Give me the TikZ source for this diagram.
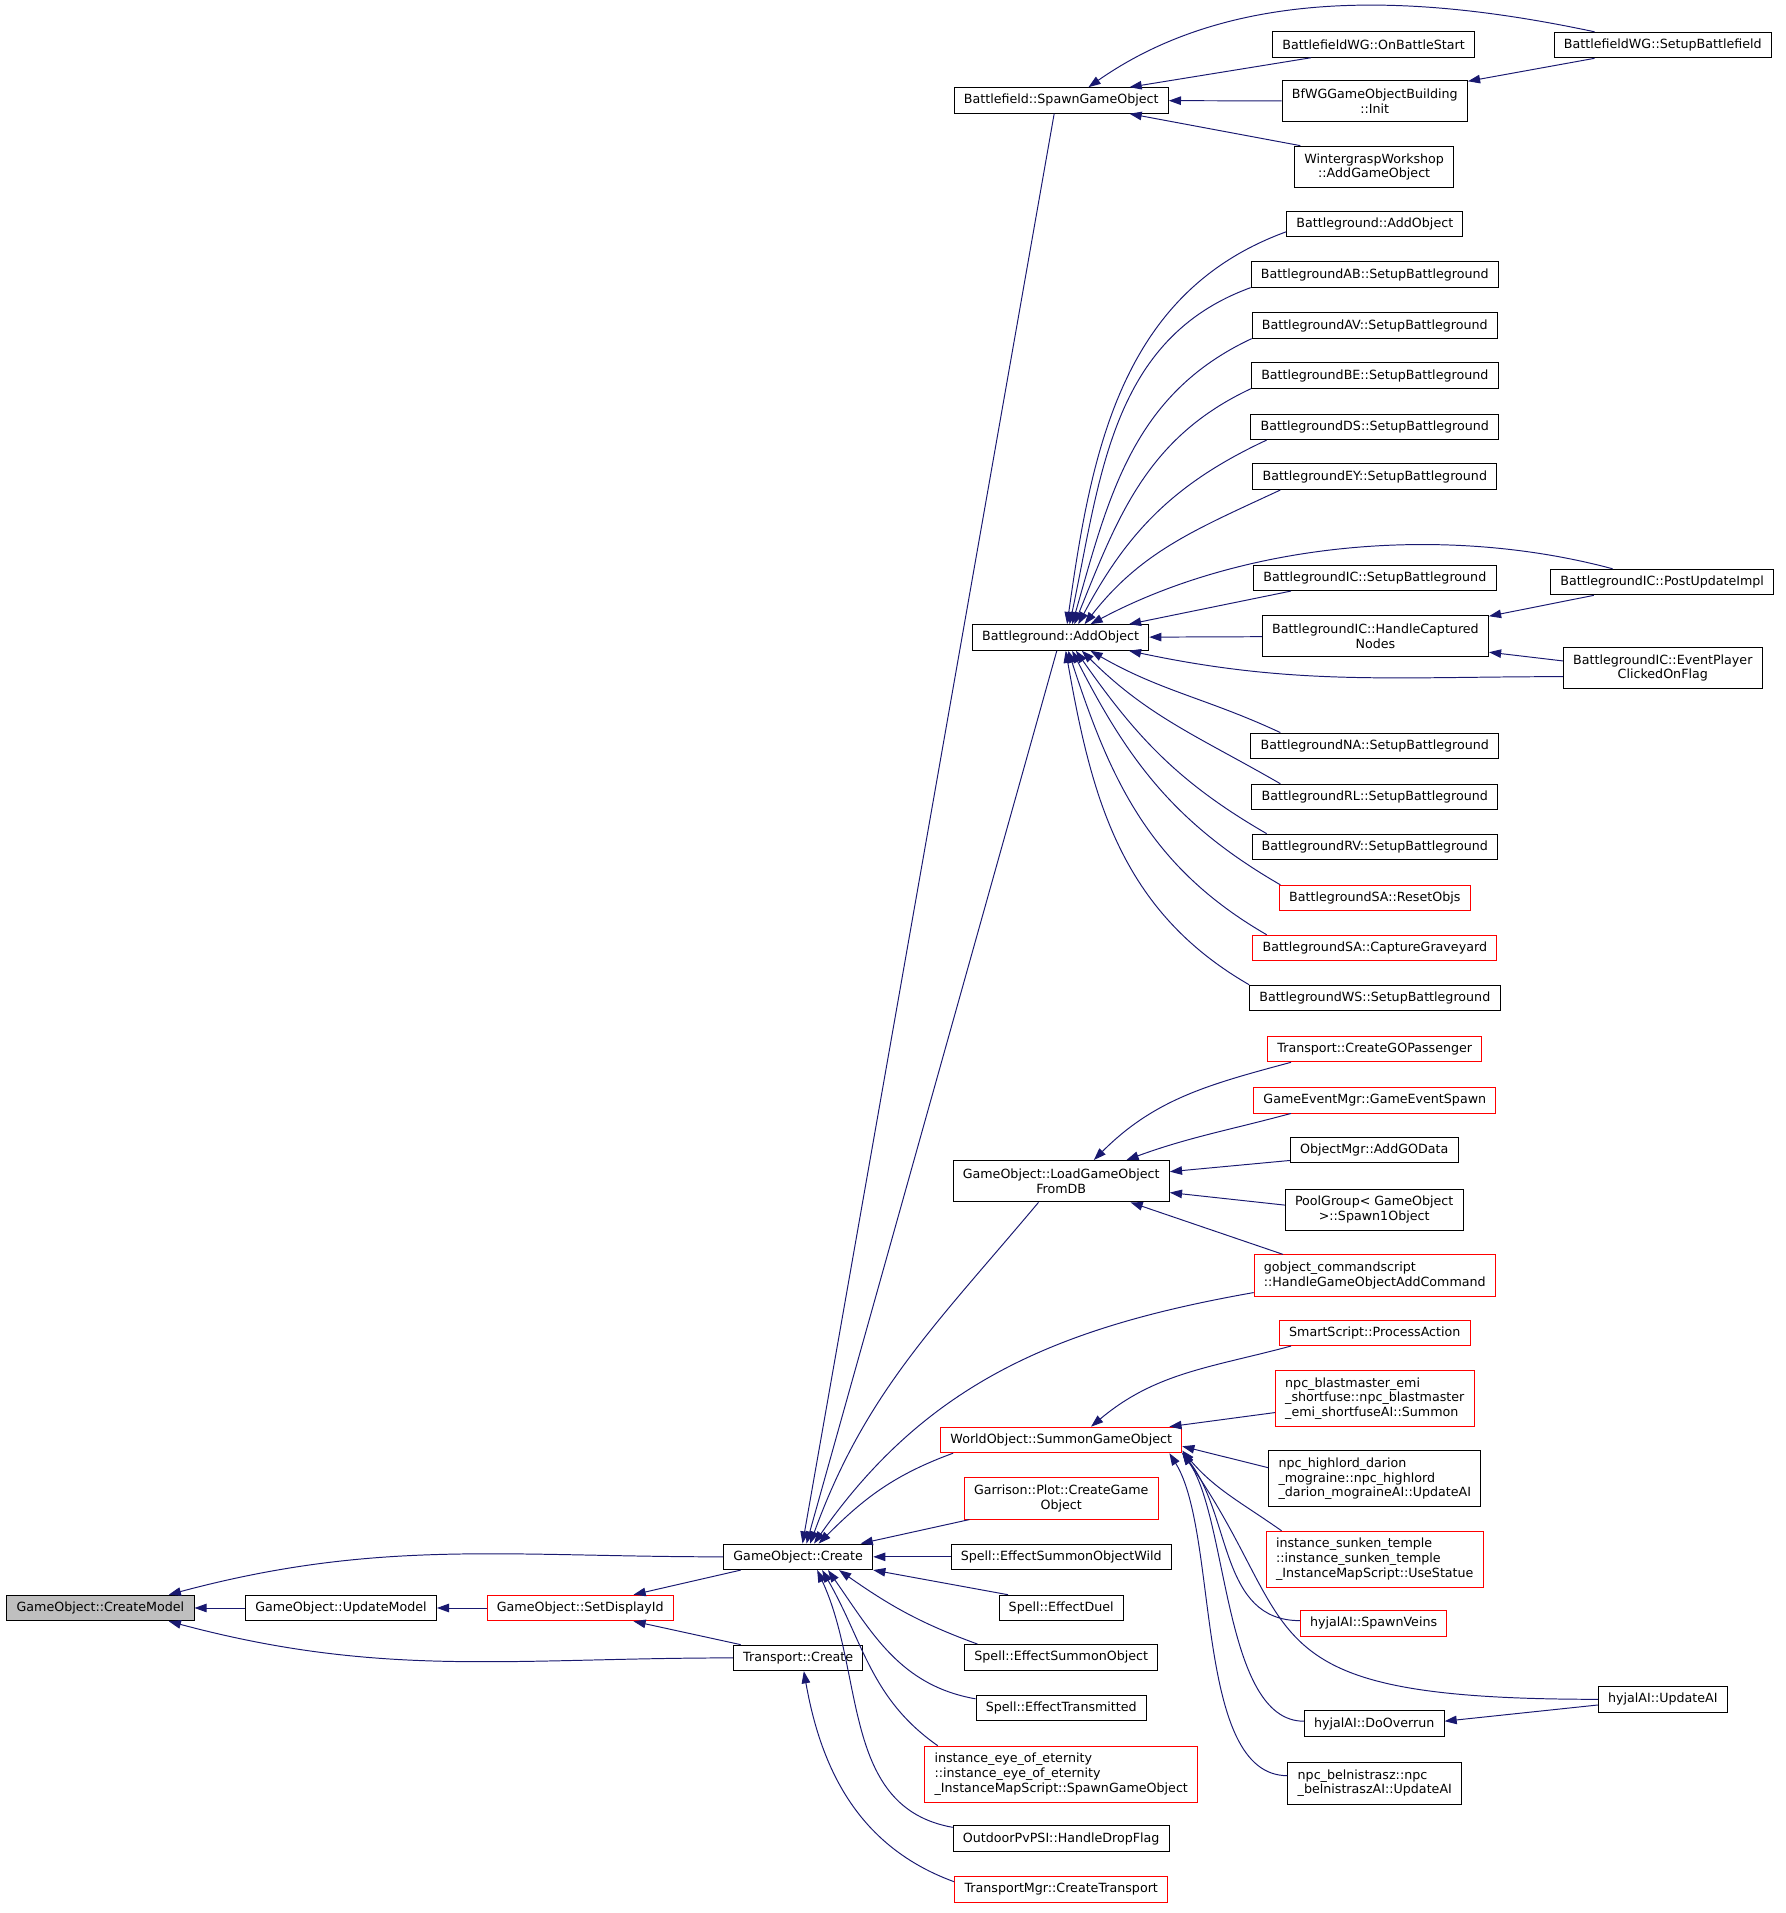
\documentclass[tikz,border=0pt]{standalone}
\usepackage{fontspec}
\setmainfont{DejaVu Sans}
\usetikzlibrary{arrows.meta}
\definecolor{edgeblue}{HTML}{191970}
\def\EdgeColor{edgeblue}
\def\RootColor{black!25}
\def\RefColor{red}

\begin{document}
\begin{tikzpicture}[x=1pt, y=-1pt,
     N/.style = {draw, fill=white, line width=0.8pt, minimum height=21pt,
                 inner xsep=8pt, inner ysep=2pt, font=\fontsize{10.4}{12}\selectfont},
     R/.style = {N, draw=\RefColor},
   two/.style = {minimum height=34pt, align=center},
 three/.style = {minimum height=46pt, align=left},
   lft/.style = {align=left},
    every edge/.style={draw=\EdgeColor, line width=0.8pt, -{Triangle[length=10pt,width=7pt]}}
                        ]
\useasboundingbox (0,0) rectangle (1466,1571);
% callee chain
\node[N, fill=\RootColor] (createModel) at (82.5,1320.5) {GameObject::CreateModel};
\node[N] (updateModel)  at (280,1320.5)  {GameObject::UpdateModel};
\node[R] (setDisplayId) at (476.5,1320.5) {GameObject::SetDisplayId};
\node[N] (goCreate)     at (655.5,1278.5) {GameObject::Create};
\node[N] (trCreate)     at (655.5,1361.5) {Transport::Create};
% callers of GameObject::Create
\node[N] (bfSpawn)      at (871.5,82.5)   {Battlefield::SpawnGameObject};
\node[N] (bgAdd)        at (871,523.5)    {Battleground::AddObject};
\node[N, two] (goLoad)  at (871.5,970)    {GameObject::LoadGameObject\\FromDB};
\node[R] (woSummon)     at (871.5,1182.5) {WorldObject::SummonGameObject};
\node[R, two] (garrison) at (871.5,1230.5) {Garrison::Plot::CreateGame\\Object};
\node[N] (effWild)      at (871.5,1278.5) {Spell::EffectSummonObjectWild};
\node[N] (effDuel)      at (871.5,1320.5) {Spell::EffectDuel};
\node[N] (effSummon)    at (871.5,1361)   {Spell::EffectSummonObject};
\node[N] (effTrans)     at (871.5,1402.5) {Spell::EffectTransmitted};
\node[R, three] (eyeEternity) at (871.5,1457)
     {instance\_eye\_of\_eternity\\::instance\_eye\_of\_eternity\\\_InstanceMapScript::SpawnGameObject};
\node[N] (siDrop)       at (871.5,1510)   {OutdoorPvPSI::HandleDropFlag};
\node[R] (trMgr)        at (871.5,1551.5) {TransportMgr::CreateTransport};
% third column
\node[N] (wgStart)      at (1128,36.5)    {BattlefieldWG::OnBattleStart};
\node[N, two] (wgInit)  at (1129,83)      {BfWGGameObjectBuilding\\::Init};
\node[N, two] (wgWorkshop) at (1128.5,137) {WintergraspWorkshop\\::AddGameObject};
\node[N] (bgAdd2)       at (1129,184)     {Battleground::AddObject};
\node[N] (bgAB)         at (1129,225.5)   {BattlegroundAB::SetupBattleground};
\node[N] (bgAV)         at (1129,267.5)   {BattlegroundAV::SetupBattleground};
\node[N] (bgBE)         at (1129,308.5)   {BattlegroundBE::SetupBattleground};
\node[N] (bgDS)         at (1129,350.5)   {BattlegroundDS::SetupBattleground};
\node[N] (bgEY)         at (1129,391.5)   {BattlegroundEY::SetupBattleground};
\node[N] (icSetup)      at (1129,474.5)   {BattlegroundIC::SetupBattleground};
\node[N, two] (icCapt)  at (1129.5,522.5) {BattlegroundIC::HandleCaptured\\Nodes};
\node[N] (bgNA)         at (1129,612.5)   {BattlegroundNA::SetupBattleground};
\node[N] (bgRL)         at (1129,654.5)   {BattlegroundRL::SetupBattleground};
\node[N] (bgRV)         at (1129,695.5)   {BattlegroundRV::SetupBattleground};
\node[R] (saReset)      at (1129,737.5)   {BattlegroundSA::ResetObjs};
\node[R] (saGrave)      at (1129,778.5)   {BattlegroundSA::CaptureGraveyard};
\node[N] (bgWS)         at (1129,819.5)   {BattlegroundWS::SetupBattleground};
\node[R] (goPassenger)  at (1129,861.5)   {Transport::CreateGOPassenger};
\node[R] (gameEvent)    at (1129,903.5)   {GameEventMgr::GameEventSpawn};
\node[N] (addGOData)    at (1128.5,944.5) {ObjectMgr::AddGOData};
\node[N, two] (poolSpawn) at (1128.5,993.5) {PoolGroup< GameObject\\>::Spawn1Object};
\node[R, two, lft] (gobjCmd) at (1129,1047.5) {gobject\_commandscript\\::HandleGameObjectAddCommand};
\node[R] (smartAction)  at (1129,1094.5)  {SmartScript::ProcessAction};
\node[R, three] (blastmaster) at (1129,1148.5)
     {npc\_blastmaster\_emi\\\_shortfuse::npc\_blastmaster\\\_emi\_shortfuseAI::Summon};
\node[N, three] (highlord) at (1129,1214.5)
     {npc\_highlord\_darion\\\_mograine::npc\_highlord\\\_darion\_mograineAI::UpdateAI};
\node[R, three] (sunkenTemple) at (1129,1280.5)
     {instance\_sunken\_temple\\::instance\_sunken\_temple\\\_InstanceMapScript::UseStatue};
\node[R] (spawnVeins)   at (1128,1333)    {hyjalAI::SpawnVeins};
\node[N] (doOverrun)    at (1128.5,1415.5) {hyjalAI::DoOverrun};
\node[N, two, lft] (belnistrasz) at (1129,1464.5) {npc\_belnistrasz::npc\\\_belnistraszAI::UpdateAI};
% fourth column
\node[N] (wgSetup)      at (1365.5,37)    {BattlefieldWG::SetupBattlefield};
\node[N] (icPost)       at (1365,478)     {BattlegroundIC::PostUpdateImpl};
\node[N, two] (icClicked) at (1365.5,548.5) {BattlegroundIC::EventPlayer\\ClickedOnFlag};
\node[N] (hyjalUpdate)  at (1365.5,1395.5) {hyjalAI::UpdateAI};

\draw   (wgSetup.169)  edge[out=168,in=35,looseness=0.9] (bfSpawn.26)
        (wgStart.192)  edge (bfSpawn.11)
        (wgInit)       edge (bfSpawn)
        (wgWorkshop.164) edge (bfSpawn.-11)
        (wgSetup.191)  edge (wgInit.12)
        (bgAdd2.185)   edge[out=200,in=82] (bgAdd.64)
        (bgAB.186)     edge[out=200,in=78] (bgAdd.56)
        (bgAV.186)     edge[out=205,in=74] (bgAdd.49)
        (bgBE.186)     edge[out=205,in=68] (bgAdd.44)
        (bgDS.187)     edge[out=205,in=62] (bgAdd.37)
        (bgEY.188)     edge[out=205,in=52] (bgAdd.29)
        (icPost.165)   edge[out=165,in=28,looseness=0.85] (bgAdd.24)
        (icSetup.189)  edge (bgAdd.11)
        (icCapt)       edge (bgAdd)
        (icClicked.185) edge[out=180,in=-12] (bgAdd.-11)
        (icPost.191)   edge (icCapt.10)
        (icClicked.176) edge (icCapt.-8)
        (bgNA.172)     edge[out=155,in=-30] (bgAdd.-24)
        (bgRL.172)     edge[out=150,in=-45] (bgAdd.-32)
        (bgRV.173)     edge[out=150,in=-55] (bgAdd.-41)
        (saReset.172)  edge[out=150,in=-63] (bgAdd.-49)
        (saGrave.173)  edge[out=150,in=-72] (bgAdd.-60)
        (bgWS.174)     edge[out=150,in=-80] (bgAdd.-69)
        (goPassenger.189) edge[out=195,in=45] (goLoad.33)
        (gameEvent.189) edge[out=195,in=20] (goLoad.18)
        (addGOData.187) edge (goLoad.5)
        (poolSpawn.177) edge (goLoad.-6)
        (gobjCmd.167)  edge (goLoad.-17)
        (smartAction.189) edge[out=195,in=40] (woSummon.24)
        (blastmaster.188) edge (woSummon.7)
        (highlord.174) edge (woSummon.-3)
        (sunkenTemple.163) edge[out=145,in=-50] (woSummon.-5)
        (spawnVeins.178) edge[out=180,in=-52] (woSummon.-6)
        (hyjalUpdate)  edge[out=180,in=-55,out looseness=1.9,in looseness=1.15] (woSummon.-6)
        (doOverrun.178) edge[out=180,in=-55,looseness=0.7] (woSummon.-6)
        (belnistrasz.175) edge[out=180,in=-58,looseness=0.7] (woSummon.-7)
        (hyjalUpdate.185) edge (doOverrun.2)
        (bfSpawn.-118) edge (goCreate.72)
        (bgAdd.-106)   edge (goCreate.58)
        (goLoad.223)   edge[out=230,in=70] (goCreate.48)
        (gobjCmd.188)  edge[out=190,in=55] (goCreate.40)
        (woSummon.187) edge[out=200,in=45] (goCreate.33)
        (garrison.193) edge (goCreate.12)
        (effWild)      edge (goCreate)
        (effDuel.166)  edge (goCreate.-10)
        (effSummon.171) edge[out=160,in=-35] (goCreate.-18)
        (effTrans.174) edge[out=170,in=-55] (goCreate.-24)
        (eyeEternity.167) edge[out=145,in=-60] (goCreate.-29)
        (siDrop.174)   edge[out=170,in=-65] (goCreate.-35)
        (trMgr.176)    edge[out=160,in=-80] (trCreate.-67)
        (goCreate)     edge[out=180,in=15] (createModel.11)
        (trCreate)     edge[out=180,in=-15] (createModel.-11)
        (goCreate.193) edge (setDisplayId.14)
        (trCreate.167) edge (setDisplayId.-14)
        (setDisplayId) edge (updateModel)
        (updateModel)  edge (createModel);
\end{tikzpicture}
\end{document}
